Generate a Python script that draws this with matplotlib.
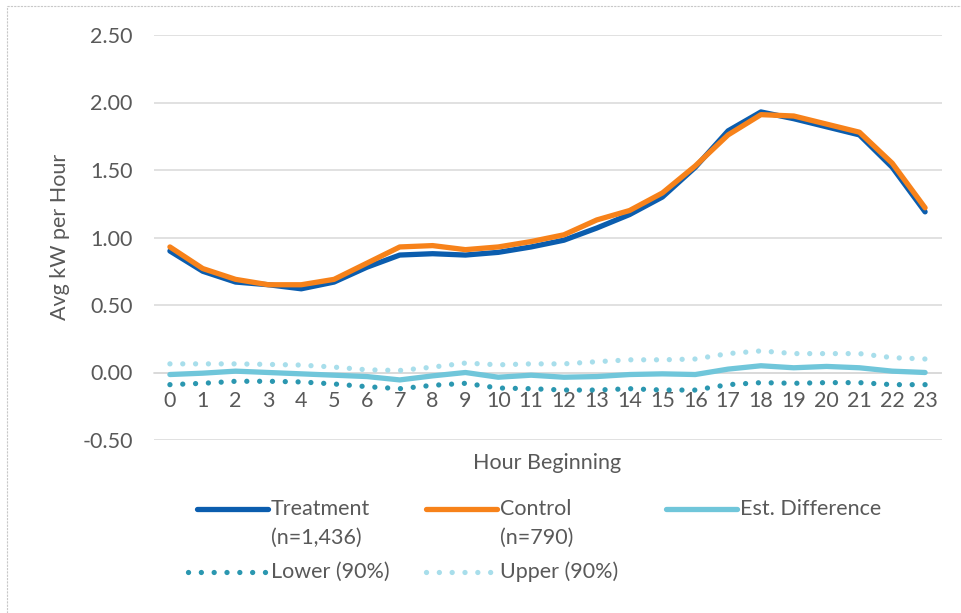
import matplotlib.pyplot as plt
from matplotlib.lines import Line2D

hours = list(range(24))

treatment = [0.90, 0.75, 0.67, 0.65, 0.62, 0.67, 0.78, 0.87, 0.88, 0.87, 0.89, 0.93,
             0.98, 1.07, 1.17, 1.30, 1.52, 1.79, 1.93, 1.88, 1.82, 1.76, 1.52, 1.19]
control = [0.93, 0.77, 0.69, 0.65, 0.65, 0.69, 0.81, 0.93, 0.94, 0.91, 0.93, 0.97,
           1.02, 1.13, 1.20, 1.33, 1.53, 1.76, 1.91, 1.90, 1.84, 1.78, 1.55, 1.22]
est_diff = [-0.015, -0.005, 0.01, 0.0, -0.01, -0.02, -0.03, -0.055, -0.025, 0.0, -0.035, -0.02,
            -0.035, -0.03, -0.015, -0.01, -0.015, 0.025, 0.05, 0.035, 0.045, 0.035, 0.01, 0.0]
lower = [-0.09, -0.08, -0.065, -0.065, -0.07, -0.085, -0.105, -0.12, -0.095, -0.08, -0.115, -0.12,
         -0.13, -0.13, -0.12, -0.13, -0.13, -0.09, -0.075, -0.08, -0.075, -0.075, -0.09, -0.09]
upper = [0.064, 0.064, 0.064, 0.06, 0.055, 0.04, 0.02, 0.015, 0.04, 0.07, 0.057, 0.064,
         0.064, 0.08, 0.094, 0.094, 0.10, 0.14, 0.16, 0.14, 0.14, 0.14, 0.11, 0.10]

yticks = [-0.5, 0.0, 0.5, 1.0, 1.5, 2.0, 2.5]

TXT = '#595959'
GRID = '#d9d9d9'
plt.rcParams['font.family'] = ['Lato', 'DejaVu Sans']
FS = 15.5
W, H = 961, 613

fig = plt.figure(figsize=(W / 100, H / 100), dpi=100)
ax = fig.add_axes([153.5 / W, 1 - 440 / H, 788 / W, 405 / H])

lw = 3.8
dots = (0, (0.01, 2.42))
series = [
    (treatment, '#0b5dae', '-', 'Treatment\n(n=1,436)'),
    (control, '#f7821a', '-', 'Control\n(n=790)'),
    (est_diff, '#70c6da', '-', 'Est. Difference'),
    (lower, '#2b97b0', dots, 'Lower (90%)'),
    (upper, '#a8deeb', dots, 'Upper (90%)'),
]
for vals, col, ls, lab in series:
    ax.plot(hours, vals, color=col, lw=lw, linestyle=ls, solid_capstyle='round',
            dash_capstyle='round', solid_joinstyle='round', zorder=3)

ax.set_xlim(-0.5, 23.5)
ax.set_ylim(-0.5, 2.5)
ax.set_yticks(yticks)
ax.set_yticklabels(['%.2f' % v for v in yticks])
ax.set_xticks(hours)
ax.grid(axis='y', color=GRID, lw=1.1, zorder=0)
for s in ['top', 'right', 'left']:
    ax.spines[s].set_visible(False)
ax.spines['bottom'].set_position(('data', 0))
ax.spines['bottom'].set_color(GRID)
ax.spines['bottom'].set_linewidth(1.1)
ax.tick_params(axis='y', length=0, pad=15, labelsize=FS, labelcolor=TXT)
ax.tick_params(axis='x', length=0, pad=13, labelsize=FS, labelcolor=TXT)

fig.text(60 / W, 1 - 237 / H, 'Avg kW per Hour', rotation=90, ha='center', va='center',
         fontsize=FS, color=TXT)
fig.text(547 / W, 1 - 463 / H, 'Hour Beginning', ha='center', va='center',
         fontsize=FS, color=TXT)

# legend in fixed-width columns; key sits on the first text line
# (key start x, key end x, row y) in pixels
legend_pos = [(197, 268, 509), (426, 497, 509), (666, 737, 509), (188, 268, 572), (426, 497, 572)]
for (vals, col, ls, lab), (x0, x1, y0) in zip(series, legend_pos):
    yf = 1 - y0 / H
    fig.add_artist(Line2D([x0 / W, x1 / W], [yf, yf], color=col, lw=lw, linestyle=ls,
                          solid_capstyle='round', dash_capstyle='round'))
    for k, t in enumerate(lab.split('\n')):
        fig.text((x1 + 3) / W, yf - k * 29 / H, t, ha='left', va='center', fontsize=FS, color=TXT)

# chart frame edge
edge = dict(color='#c8c8c8', lw=0.8, linestyle=(0, (2, 1)))
fig.add_artist(Line2D([7 / W, 7 / W], [0, 1 - 6 / H], **edge))
fig.add_artist(Line2D([7 / W, 1], [1 - 6 / H, 1 - 6 / H], **edge))

fig.savefig('out.png', dpi=100)
